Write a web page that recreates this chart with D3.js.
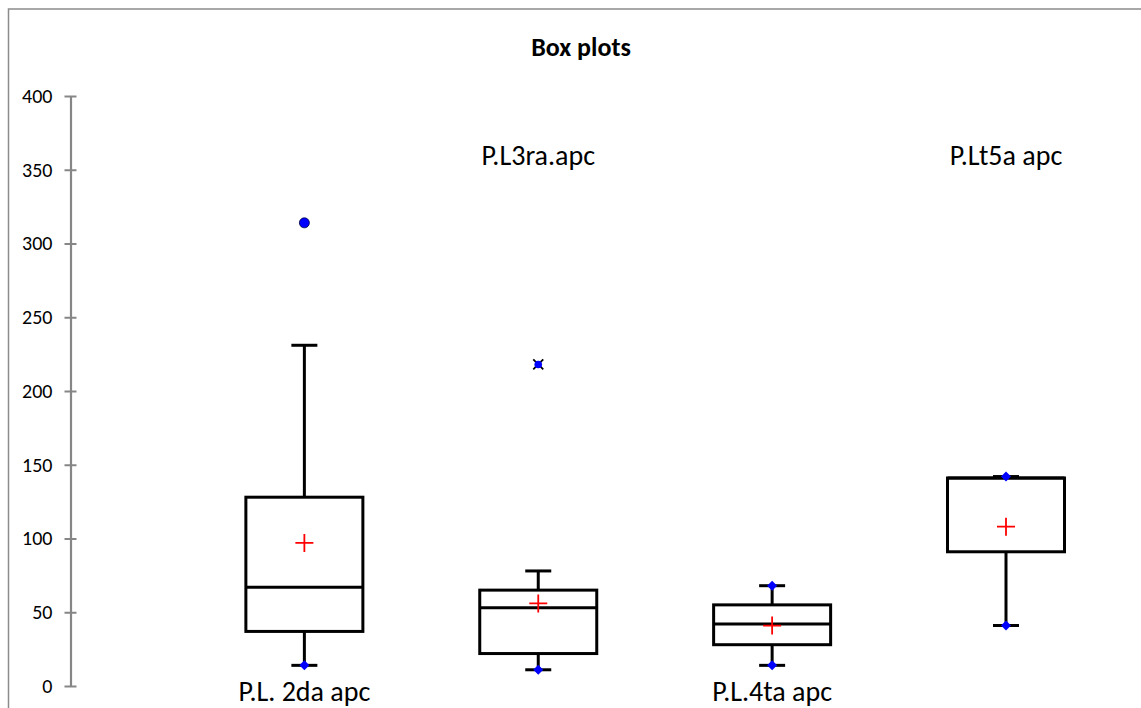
<!DOCTYPE html>
<html>
<head>
<meta charset="utf-8">
<script src="https://cdn.jsdelivr.net/npm/d3@7"></script>
<style>
    body { margin: 0; background: #fff; }
    text { font-family: Carlito, Calibri, "Open Sans", sans-serif; }
</style>
</head>
<body>
<script>
// box plot data
let categories = ["P.L. 2da apc", "P.L3ra.apc", "P.L.4ta apc", "P.Lt5a apc"];
let labelAbove = [false, true, false, true];
let minValues = [14, 11, 14, 41];
let q1Values = [37, 22, 28, 91];
let medianValues = [67, 53, 42, 141];
let q3Values = [128, 65, 55, 141];
let maxValues = [231, 78, 68, 142];
let meanValues = [97, 56, 41, 108];
let minMarker = [true, true, true, true];
let maxMarker = [false, false, true, true];
let outliers = [
    { cat: 0, value: 314, kind: "circle" },
    { cat: 1, value: 218, kind: "cross" }
];
let yTicks = [0, 50, 100, 150, 200, 250, 300, 350, 400];

let width = 1141, height = 708;

let svg = d3.select("body").append("svg")
    .attr("width", width)
    .attr("height", height);

// chart frame (right and bottom edge run off the picture)
svg.append("rect")
    .attr("x", 8.5).attr("y", 9)
    .attr("width", 1140).attr("height", 720)
    .style("fill", "white")
    .style("stroke", "#8c8c8c")
    .style("stroke-width", 1.5);

svg.append("text")
    .attr("x", 581).attr("y", 56)
    .attr("text-anchor", "middle")
    .style("font-size", "26px")
    .style("font-weight", "bold")
    .text("Box plots");

let y = d3.scaleLinear().domain([0, 400]).range([686, 96]);
let x = d3.scaleLinear().domain([0, 4]).range([70.5, 1006]);

let yAxis = svg.append("g")
    .attr("transform", "translate(70.5,0)")
    .call(d3.axisLeft(y).tickValues(yTicks).tickSize(5).tickPadding(13).tickSizeOuter(0));
yAxis.select(".domain").style("stroke", "#868686").style("stroke-width", 2.2);
yAxis.selectAll(".tick line").attr("x1", -6).attr("x2", 6).style("stroke", "#868686").style("stroke-width", 2);
yAxis.selectAll(".tick text")
    .style("font-family", "Carlito, Calibri, 'Open Sans', sans-serif")
    .style("font-size", "20px")
    .style("fill", "#000");

let boxW = 117, capW = 26;
let data = categories.map((c, i) => ({
    name: c, i: i + 1,
    min: minValues[i], q1: q1Values[i], med: medianValues[i], q3: q3Values[i],
    max: maxValues[i], mean: meanValues[i],
    above: labelAbove[i], minM: minMarker[i], maxM: maxMarker[i]
}));

let g = svg.selectAll(".box").data(data).enter().append("g").attr("class", "box");

// whiskers
g.append("line")
    .attr("x1", d => x(d.i)).attr("x2", d => x(d.i))
    .attr("y1", d => y(d.q3)).attr("y2", d => y(d.max))
    .style("stroke", "black").style("stroke-width", 3);
g.append("line")
    .attr("x1", d => x(d.i)).attr("x2", d => x(d.i))
    .attr("y1", d => y(d.q1)).attr("y2", d => y(d.min))
    .style("stroke", "black").style("stroke-width", 3);
["min", "max"].forEach(k => {
    g.append("line")
        .attr("x1", d => x(d.i) - capW / 2).attr("x2", d => x(d.i) + capW / 2)
        .attr("y1", d => y(d[k])).attr("y2", d => y(d[k]))
        .style("stroke", "black").style("stroke-width", 3);
});

// box and median
g.append("rect")
    .attr("x", d => x(d.i) - boxW / 2)
    .attr("y", d => y(d.q3))
    .attr("width", boxW)
    .attr("height", d => y(d.q1) - y(d.q3))
    .style("fill", "none").style("stroke", "black").style("stroke-width", 3);
g.append("line")
    .attr("x1", d => x(d.i) - boxW / 2).attr("x2", d => x(d.i) + boxW / 2)
    .attr("y1", d => y(d.med)).attr("y2", d => y(d.med))
    .style("stroke", "black").style("stroke-width", 3);

// min / max diamonds
let diamond = d3.symbol().type(d3.symbolDiamond2).size(64);
g.filter(d => d.minM).append("path")
    .attr("d", diamond)
    .attr("transform", d => `translate(${x(d.i)},${y(d.min)})`)
    .style("fill", "blue");
g.filter(d => d.maxM).append("path")
    .attr("d", diamond)
    .attr("transform", d => `translate(${x(d.i)},${y(d.max)})`)
    .style("fill", "blue");

// mean crosses
g.append("path")
    .attr("d", d => {
        let cx = x(d.i), cy = y(d.mean);
        return `M${cx - 9},${cy}H${cx + 9}M${cx},${cy - 9}V${cy + 9}`;
    })
    .style("stroke", "red").style("stroke-width", 1.8).style("fill", "none");

// outliers
outliers.forEach(o => {
    let cx = x(o.cat + 1), cy = y(o.value);
    if (o.kind === "cross") {
        svg.append("path")
            .attr("d", `M${cx - 5},${cy - 5}L${cx + 5},${cy + 5}M${cx - 5},${cy + 5}L${cx + 5},${cy - 5}`)
            .style("stroke", "black").style("stroke-width", 1.8);
        svg.append("circle").attr("cx", cx).attr("cy", cy).attr("r", 3.8).style("fill", "blue");
    } else {
        svg.append("circle").attr("cx", cx).attr("cy", cy).attr("r", 5)
            .style("fill", "blue").style("stroke", "#000044").style("stroke-width", 0.8);
    }
});

// category labels
g.append("text")
    .attr("x", d => x(d.i))
    .attr("y", d => d.above ? 165 : 701)
    .attr("text-anchor", "middle")
    .style("font-size", "28px")
    .text(d => d.name);
</script>
</body>
</html>
